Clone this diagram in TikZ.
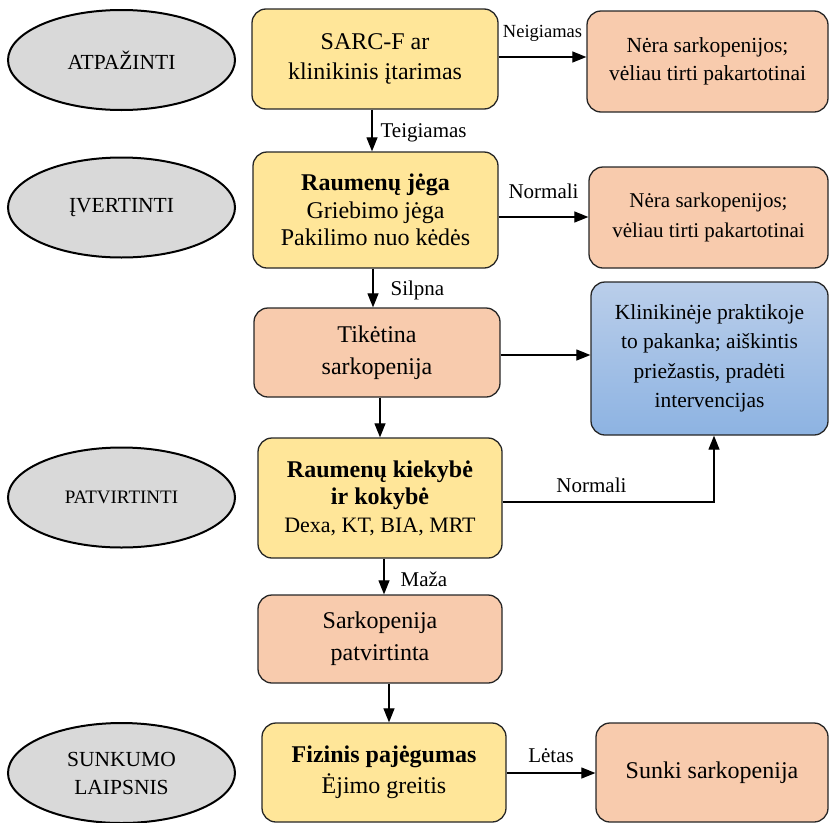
\documentclass[tikz,border=0pt]{standalone}
\usepackage{fontspec}
\setmainfont{Liberation Serif}
\usetikzlibrary{arrows.meta,shapes.geometric}

\definecolor{boxyellow}{RGB}{255,230,153}
\definecolor{boxpeach}{RGB}{248,203,173}
\definecolor{stagegrey}{RGB}{217,217,217}
\definecolor{bluetop}{RGB}{186,206,234}
\definecolor{bluebottom}{RGB}{141,179,226}
\newcommand\fsz[2]{\fontsize{#1}{#2}\selectfont}

\begin{document}
\begin{tikzpicture}[x=1pt,y=-1pt,
  stage/.style={ellipse, draw=black, line width=2pt, fill=stagegrey,
    minimum width=227pt, minimum height=100pt, inner sep=0pt,
    align=center, font=\fsz{21.5}{28}},
  card/.style={rectangle, rounded corners=14pt, draw=black!85,
    line width=1.3pt, inner sep=0pt, align=center, font=\fsz{24}{30}},
  testbox/.style={card, fill=boxyellow},
  resultbox/.style={card, fill=boxpeach},
  actionbox/.style={card, top color=bluetop, bottom color=bluebottom},
  flow/.style={line width=1.2pt, -{Triangle[length=14pt,width=11pt]}},
  edgelabel/.style={inner sep=0pt, font=\fsz{21}{24}},
]
\useasboundingbox (0,0) rectangle (829,822);
\clip (0,0) rectangle (829,822);

% stage ellipses
\node[stage] (s1) at (121.5,60) {ATPAŽINTI};
\node[stage] (s2) at (121.5,207.5) {ĮVERTINTI};
\node[stage, font=\fsz{19}{24}] (s3) at (121.5,497.5) {PATVIRTINTI};
\node[stage] (s4) at (121.5,773) {SUNKUMO\\LAIPSNIS};

% main column
\node[testbox, minimum width=246pt, minimum height=100pt] (sarcf) at (375,59)
  {SARC-F ar\\klinikinis įtarimas};
\node[testbox, minimum width=245pt, minimum height=116pt, font=\fsz{24}{27.5}] (jega) at (375.5,210)
  {\textbf{Raumenų jėga}\\Griebimo jėga\\Pakilimo nuo kėdės};
\node[resultbox, minimum width=246pt, minimum height=89pt, font=\fsz{24}{32}] (likely) at (377,352.5)
  {Tikėtina\\sarkopenija};
\node[testbox, minimum width=244pt, minimum height=120pt, font=\fsz{24}{27.5}] (kiek) at (380,498)
  {\textbf{Raumenų kiekybė}\\\textbf{ir kokybė}\\{\fsz{22}{27.5}Dexa, KT, BIA, MRT}};
\node[resultbox, minimum width=244pt, minimum height=88pt, font=\fsz{24}{32}] (conf) at (380,639)
  {Sarkopenija\\patvirtinta};
\node[testbox, minimum width=244pt, minimum height=99pt, font=\fsz{24}{31}] (fiz) at (384,772.5)
  {\textbf{Fizinis pajėgumas}\\Ėjimo greitis};

% outcome column
\node[resultbox, minimum width=241pt, minimum height=101pt, font=\fsz{21.5}{28}] (neg1) at (707.5,61.5)
  {Nėra sarkopenijos;\\vėliau tirti pakartotinai};
\node[resultbox, minimum width=239pt, minimum height=101pt, font=\fsz{21}{30}] (neg2) at (708.5,217.5)
  {Nėra sarkopenijos;\\vėliau tirti pakartotinai};
\node[actionbox, minimum width=237pt, minimum height=153pt, font=\fsz{21.5}{29.5}] (act) at (709.5,358.5)
  {Klinikinėje praktikoje\\to pakanka; aiškintis\\priežastis, pradėti\\intervencijas};
\node[resultbox, minimum width=232pt, minimum height=99pt] (severe) at (712,772.5)
  {Sunki sarkopenija};

% connector start points
\coordinate (v1) at ([xshift=-3pt]sarcf.south);
\coordinate (v2) at ([xshift=-2.5pt]jega.south);
\coordinate (v3) at ([xshift=3pt]likely.south);
\coordinate (v4) at ([xshift=4pt]kiek.south);
\coordinate (v5) at ([xshift=9pt]conf.south);
\coordinate (h1) at ([yshift=2pt]sarcf.east);
\coordinate (h2) at ([yshift=-7pt]jega.east);
\coordinate (h3) at ([yshift=-2.5pt]likely.east);
\coordinate (h4) at ([yshift=-4pt]kiek.east);
\coordinate (h5) at ([yshift=-0.5pt]fiz.east);
\coordinate (up) at ([xshift=4.5pt]act.south);

% vertical flow
\draw[flow] (v1) -- node[edgelabel, anchor=west, xshift=8pt, yshift=-2pt] {Teigiamas} (v1 |- jega.north);
\draw[flow] (v2) -- node[edgelabel, anchor=west, xshift=17pt, yshift=-2pt] {Silpna} (v2 |- likely.north);
\draw[flow] (v3) -- (v3 |- kiek.north);
\draw[flow] (v4) -- node[edgelabel, anchor=west, xshift=16pt, yshift=-3pt] {Maža} (v4 |- conf.north);
\draw[flow] (v5) -- (v5 |- fiz.north);

% horizontal flow
\draw[flow] (h1) -- node[edgelabel, font=\fsz{18.5}{22}, above=15pt] {Neigiamas} (h1 -| neg1.west);
\draw[flow] (h2) -- node[edgelabel, above=18pt] {Normali} (h2 -| neg2.west);
\draw[flow] (h3) -- (h3 -| act.west);
\draw[flow] (h4) -| node[edgelabel, pos=0.21, above=9pt] {Normali} (up);
\draw[flow] (h5) -- node[edgelabel, above=10pt] {Lėtas} (h5 -| severe.west);
\end{tikzpicture}
\end{document}
